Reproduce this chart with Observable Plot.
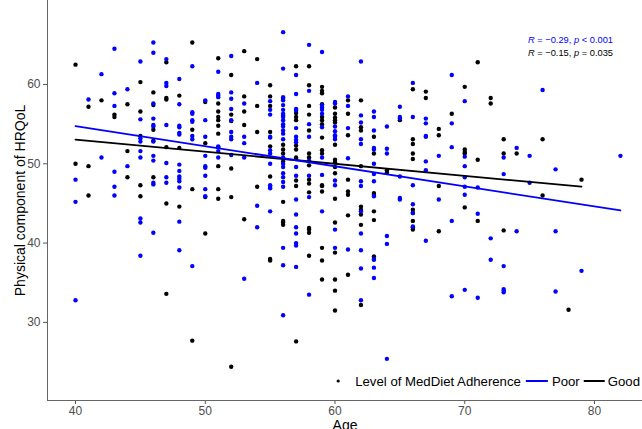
<!DOCTYPE html>
<html>
<head>
<meta charset="utf-8">
<script src="https://cdn.jsdelivr.net/npm/d3@7"></script>
<script src="https://cdn.jsdelivr.net/npm/@observablehq/plot@0.6"></script>
<style>
  html, body { margin: 0; padding: 0; background: #fff; }
  body { font-family: "Liberation Sans", Arial, sans-serif; }
</style>
</head>
<body>
<div id="chart"></div>
<script>
const ages = [40,41,42,43,44,45,46,47,48,49,50,51,52,53,54,55,56,57,58,59,60,61,62,63,64,65,66,67,68,69,70,71,72,73,74,75,76,77,78,79,82];
const poorValues = [
  [48.0,45.2,32.8],
  [58.1],
  [61.3,50.8],
  [64.5,58.9,57.3,49.0,47.1,46.0],
  [59.4,49.7],
  [62.9,55.6,53.2,52.8,51.6,50.8,43.1,42.6,38.4],
  [65.3,64.0,57.6,55.7,54.9,54.7,52.8,51.0,50.4,47.6,47.4,41.3],
  [63.2,60.2,59.8,54.9,50.1,48.3,47.6],
  [60.7,57.5,54.8,54.6,53.9,53.7,49.9,49.1,48.4,48.1,47.8,47.0,42.7,39.1],
  [62.3,56.5,56.3,55.5,55.3,53.5,53.1,37.1],
  [58.0,55.5,53.4,51.0,49.7,49.5,48.5,46.8,45.9],
  [61.6,58.8,58.6,58.4,52.2,51.6,50.8],
  [63.6,59.0,58.2,56.9,55.5,54.0,53.4,53.1,51.1],
  [57.6,53.4,52.6,50.8,35.5],
  [60.2,44.7,42.0],
  [57.9,56.8,56.2,53.4,53.3,51.7,51.3,50.0,47.3,47.1,46.9,44.0],
  [66.6,62.0,58.4,58.2,58.0,57.4,56.8,56.3,56.1,55.9,55.5,55.0,54.7,54.2,53.8,53.1,50.8,50.0,49.6,48.8,48.3,47.7,47.1,39.4,37.2,30.9],
  [61.2,58.8,56.9,56.7,54.5,53.4,53.0,52.7,49.6,48.5,45.5,43.6,42.0,41.2,40.0,39.7,37.0],
  [65.0,59.2,55.0,53.4,50.4,48.5,45.8,33.5],
  [64.1,57.4,57.1,56.8,56.3,54.6,50.8,48.6,44.0],
  [57.8,57.6,54.7,54.1,53.6,53.4,53.1,47.9,47.3,41.7,39.4],
  [58.5,57.3,54.5,50.7,39.2],
  [62.9,56.1,55.2,53.1,52.5,47.8,47.2,44.0,41.2,39.1,36.8,32.8],
  [56.6,55.9,54.2,52.0,51.8,50.0,48.7,47.8,45.9,38.0,37.9,36.9,35.6],
  [54.7,51.9,51.3,40.9,39.9,25.4],
  [57.2,55.9,55.7,48.4,45.7,45.5],
  [60.2,55.9,47.3,44.9,43.8,42.1],
  [55.7,55.1,53.5,53.4,50.3,49.2,40.3],
  [51.0,45.5],
  [61.2,55.1,52.1,42.8,33.3],
  [57.9,50.9,49.7,48.3,47.1,46.1,34.1],
  [47.0,43.7,33.1],
  [40.6,37.9],
  [50.8,48.7,37.1,34.2,34.0,33.8],
  [52.0,41.5],
  [51.0,47.6],
  [59.3],
  [49.3,41.5,33.9],
  [],
  [36.5],
  [51.0]
];
const goodValues = [
  [62.5,50.0],
  [57.2,49.7,46.0],
  [58.0],
  [56.2,55.9],
  [57.5,51.6,48.3],
  [60.3,56.6,53.5,47.3,45.9],
  [59.0,57.4,54.3,52.9,48.3],
  [62.8,58.3,58.1,52.1,45.0,33.6],
  [58.6,52.0,44.6],
  [65.3,54.3,46.8,27.7],
  [57.8,52.6,45.8,41.2],
  [63.3,57.6,56.6,55.9,55.5,54.8,53.8,52.1,49.7,46.8,45.6],
  [61.2,56.2,55.4,49.4,45.8,24.4],
  [64.2,58.5,56.6,54.9,43.0],
  [63.2,57.3,54.0,47.1],
  [59.9,58.5,57.3,54.0,52.2,48.4,38.0,37.8],
  [52.4,51.8,51.3,50.3,45.2,42.8,42.6,42.3],
  [62.3,56.4,55.9,55.5,52.3,51.8,50.8,50.6,47.9,47.2,27.6],
  [62.3,59.9,57.3,56.2,54.2,51.3,50.8,49.8,48.0,47.5,46.4,41.9,41.7,41.3,38.4],
  [59.7,59.2,58.9,57.5,55.9,55.5,55.0,53.3,51.7,51.3,47.3,47.2,46.5,39.4,37.8,35.4],
  [57.1,56.3,55.8,55.5,55.2,52.4,50.5,50.2,49.6,48.8,45.6,42.6,38.8,35.4,34.0,31.5],
  [58.0,56.3,53.6,48.0,46.5,46.1,43.5,36.0],
  [58.0,54.6,54.2,49.7,44.6,44.2,43.6,42.3,32.2],
  [53.4,51.3,46.3,46.1,44.0,42.9,38.3],
  [49.2,48.9],
  [55.5],
  [59.4,53.1,52.5,51.3,50.6,44.2,43.8,42.8,42.0,41.7],
  [59.1,58.3],
  [54.4,53.6,47.2,41.5],
  [56.3],
  [59.7,51.8,51.5,51.3,44.5],
  [62.8,50.5,42.8],
  [58.3,57.6],
  [53.1,51.3,41.6],
  [51.3],
  [],
  [53.1,46.0],
  [],
  [31.6],
  [48.0],
  []
];
const groups = ["Poor", "Good"];
const groupColors = ["blue", "black"];
const legendTitle = "Level of MedDiet Adherence";
const xTicks = [40, 50, 60, 70, 80];
const yTicks = [30, 40, 50, 60];
const statLabels = [
  {r: "\u22120.29", p: "< 0.001"},
  {r: "\u22120.15", p: "= 0.035"}
];

const rows = [];
ages.forEach((a, i) => {
  goodValues[i].forEach(v => rows.push({age: a, value: v, group: "Good"}));
  poorValues[i].forEach(v => rows.push({age: a, value: v, group: "Poor"}));
});

const font = "'Liberation Sans', Arial, sans-serif";

const chart = Plot.plot({
  width: 642,
  height: 429,
  marginLeft: 47,
  marginRight: 0,
  marginTop: 0,
  marginBottom: 29,
  style: {fontFamily: font, background: "white"},
  x: {domain: [37.84, 83.7]},
  y: {domain: [20.15, 70.59]},
  color: {domain: groups, range: groupColors},
  marks: [
    Plot.dot(rows, {x: "age", y: "value", fill: "group", r: 2.2, stroke: null}),
    Plot.linearRegressionY(rows, {x: "age", y: "value", stroke: "group", ci: 0, strokeWidth: 1.8}),
    Plot.axisX({ticks: xTicks, tickSize: 4, tickPadding: 2, label: null, fontSize: 12, color: "#4d4d4d", stroke: "#555"}),
    Plot.axisY({ticks: yTicks, tickSize: 4, tickPadding: 3, label: null, fontSize: 12, color: "#4d4d4d", stroke: "#555"}),
    Plot.ruleX([37.84], {stroke: "#666", strokeWidth: 1}),
    Plot.ruleY([20.15], {stroke: "#666", strokeWidth: 1}),
    Plot.text(["Age"], {frameAnchor: "bottom", lineAnchor: "middle", dy: 25, fontSize: 14, fill: "#000"}),
    Plot.text(["Physical component of HRQoL"], {frameAnchor: "left", textAnchor: "middle", lineAnchor: "middle", rotate: -90, dx: -27, fontSize: 14, fill: "#000"})
  ]
});

document.getElementById("chart").appendChild(chart);
const svg = d3.select(chart);

// correlation annotation
const ann = svg.append("g").attr("font-family", font).attr("font-size", 9.3).attr("text-anchor", "end");
statLabels.forEach((s, i) => {
  const t = ann.append("text").attr("x", 613).attr("y", 43 + i * 13).attr("fill", groupColors[i]);
  t.append("tspan").attr("font-style", "italic").text("R");
  t.append("tspan").text(" = " + s.r + ", ");
  t.append("tspan").attr("font-style", "italic").text("p");
  t.append("tspan").text(" " + s.p);
});

// legend, laid out from its right end
const lg = svg.append("g").attr("font-family", font).attr("font-size", 13.2).attr("fill", "#000").attr("text-anchor", "start");
const yMid = 381, yBase = 386;
const tGood = lg.append("text").attr("y", yBase).text(groups[1]);
const tPoor = lg.append("text").attr("y", yBase).text(groups[0]);
const tTitle = lg.append("text").attr("y", yBase).text(legendTitle);
let xr = 640;
const wGood = tGood.node().getComputedTextLength();
xr -= wGood; tGood.attr("x", xr);
xr -= 3;
lg.append("line").attr("x1", xr - 21).attr("x2", xr).attr("y1", yMid).attr("y2", yMid).attr("stroke", groupColors[1]).attr("stroke-width", 2);
xr -= 21 + 4;
const wPoor = tPoor.node().getComputedTextLength();
xr -= wPoor; tPoor.attr("x", xr);
xr -= 4;
lg.append("line").attr("x1", xr - 22).attr("x2", xr).attr("y1", yMid).attr("y2", yMid).attr("stroke", groupColors[0]).attr("stroke-width", 2);
xr -= 22 + 5;
const wTitle = tTitle.node().getComputedTextLength();
xr -= wTitle; tTitle.attr("x", xr);
lg.append("circle").attr("cx", xr - 17).attr("cy", yMid).attr("r", 1.6).attr("fill", "#000");
</script>
</body>
</html>
